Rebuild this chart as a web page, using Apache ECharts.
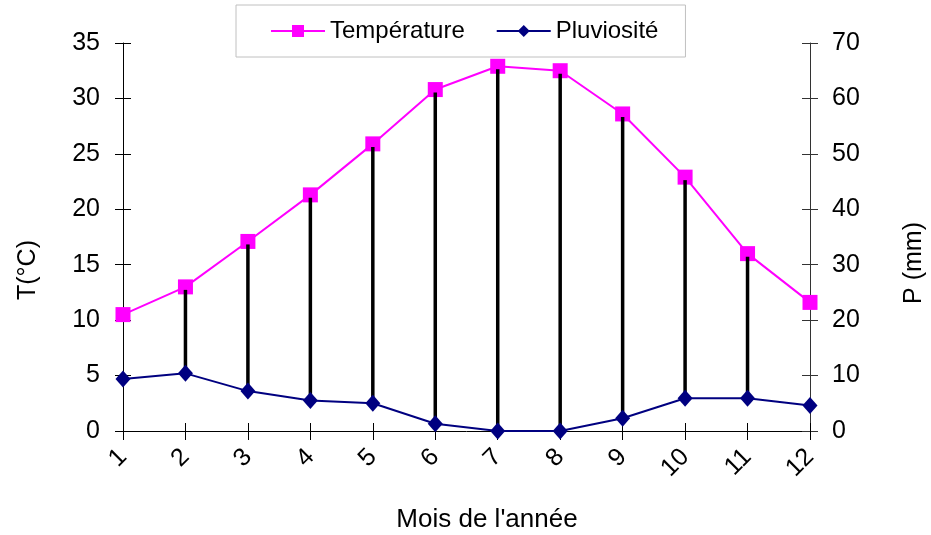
<!DOCTYPE html>
<html>
<head>
<meta charset="utf-8">
<script src="https://cdn.jsdelivr.net/npm/echarts@6/dist/echarts.min.js"></script>
<style>
html,body{margin:0;padding:0;background:#fff;}
#chart{width:931px;height:535px;}
</style>
</head>
<body>
<div id="chart"></div>
<script>
// Data
var months = ['1','2','3','4','5','6','7','8','9','10','11','12'];
var temperature = [10.5, 13.0, 17.1, 21.3, 25.9, 30.8, 32.9, 32.5, 28.6, 22.9, 16.0, 11.6];
var pluviosite = [9.4, 10.4, 7.2, 5.5, 5.0, 1.3, 0, 0, 2.3, 5.9, 5.9, 4.6];
var dryMonths = ['2','3','4','5','6','7','8','9','10','11'];
var tTicks = [0, 35, 5];   // min, max, interval
var pTicks = [0, 70, 10];

var FONT = 'Liberation Sans';
var ratio = pTicks[1] / tTicks[1];

var segData = dryMonths.map(function (m) {
  var i = months.indexOf(m);
  return [m, pluviosite[i] / ratio, temperature[i]];
});

var chart = echarts.init(document.getElementById('chart'));
var labelStyle = {fontFamily: FONT, fontSize: 25, color: '#000'};

chart.setOption({
  backgroundColor: '#fff',
  animation: false,
  textStyle: {fontFamily: FONT},
  grid: {left: 123, right: 121, top: 43, bottom: 104, containLabel: false},
  legend: {
    data: ['Température', 'Pluviosité'],
    left: 236, top: 5,
    itemWidth: 54, itemHeight: 15, itemGap: 31,
    padding: [14, 27, 14, 34],
    borderColor: '#c0c0c0', borderWidth: 1,
    textStyle: {fontFamily: FONT, fontSize: 24, color: '#000', padding: [0, 0, 0, 0]}
  },
  xAxis: [{
    type: 'category', data: months, boundaryGap: false, position: 'bottom',
    axisLine: {lineStyle: {color: '#000', width: 1}},
    axisTick: {show: true, length: 9, lineStyle: {color: '#000'}},
    axisLabel: Object.assign({rotate: 45, margin: 22, interval: 0}, labelStyle),
    splitLine: {show: false}
  }, {
    type: 'category', data: months, boundaryGap: false, position: 'bottom',
    axisLine: {show: false},
    axisTick: {show: true, inside: true, length: 8, lineStyle: {color: '#000'}},
    axisLabel: {show: false}, splitLine: {show: false}
  }],
  yAxis: [{
    type: 'value', position: 'left', min: tTicks[0], max: tTicks[1], interval: tTicks[2],
    axisLine: {show: true, lineStyle: {color: '#000'}},
    axisTick: {show: true, length: 8, lineStyle: {color: '#000'}},
    axisLabel: Object.assign({margin: 23}, labelStyle),
    splitLine: {show: false}
  }, {
    type: 'value', position: 'right', min: pTicks[0], max: pTicks[1], interval: pTicks[2],
    axisLine: {show: true, lineStyle: {color: '#333'}},
    axisTick: {show: true, length: 8, lineStyle: {color: '#333'}},
    axisLabel: Object.assign({margin: 22}, labelStyle),
    splitLine: {show: false}
  }, {
    type: 'value', position: 'left', min: tTicks[0], max: tTicks[1], interval: tTicks[2],
    axisLine: {show: false},
    axisTick: {show: true, inside: true, length: 8, lineStyle: {color: '#000'}},
    axisLabel: {show: false}, splitLine: {show: false}
  }, {
    type: 'value', position: 'right', min: pTicks[0], max: pTicks[1], interval: pTicks[2],
    axisLine: {show: false},
    axisTick: {show: true, inside: true, length: 8, lineStyle: {color: '#333'}},
    axisLabel: {show: false}, splitLine: {show: false}
  }],
  graphic: [{
    type: 'text', x: 28, y: 270, rotation: Math.PI / 2,
    style: {text: 'T(°C)', fontFamily: FONT, fontSize: 25, fill: '#000', align: 'center', verticalAlign: 'middle'}
  }, {
    type: 'text', x: 914, y: 263, rotation: Math.PI / 2,
    style: {text: 'P (mm)', fontFamily: FONT, fontSize: 25, fill: '#000', align: 'center', verticalAlign: 'middle'}
  }, {
    type: 'text', x: 487, y: 520,
    style: {text: "Mois de l'année", fontFamily: FONT, fontSize: 26, fill: '#000', align: 'center', verticalAlign: 'middle'}
  }],
  series: [{
    name: 'Température', type: 'line', xAxisIndex: 0, yAxisIndex: 0,
    data: temperature, symbol: 'rect', symbolSize: 15, z: 2,
    lineStyle: {color: '#ff00ff', width: 2},
    itemStyle: {color: '#ff00ff'}
  }, {
    name: 'dry', type: 'custom', xAxisIndex: 0, yAxisIndex: 0, z: 3,
    data: segData,
    encode: {x: 0, y: [1, 2]},
    renderItem: function (params, api) {
      var idx = api.value(0);
      var a = api.coord([idx, api.value(1)]);
      var b = api.coord([idx, api.value(2)]);
      return {type: 'line', shape: {x1: a[0], y1: a[1], x2: b[0], y2: b[1] + 3},
        style: {stroke: '#000', lineWidth: 3.5}};
    }
  }, {
    name: 'Pluviosité', type: 'line', xAxisIndex: 0, yAxisIndex: 1,
    data: pluviosite, symbol: 'diamond', symbolSize: [15, 17], z: 4,
    lineStyle: {color: '#000080', width: 2},
    itemStyle: {color: '#000080'}
  }]
});
</script>
</body>
</html>
